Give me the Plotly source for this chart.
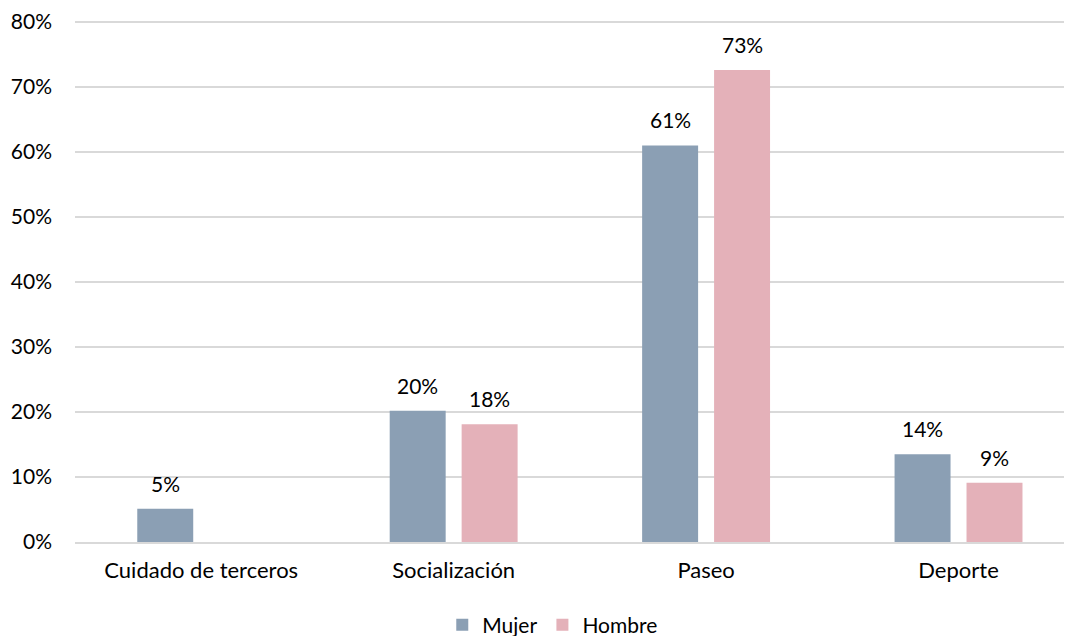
import plotly.graph_objects as go

categories = ["Cuidado de terceros", "Socialización", "Paseo", "Deporte"]
mujer = [5.1, 20.2, 61.0, 13.5]
hombre = [None, 18.1, 72.6, 9.1]
mujer_labels = ["5%", "20%", "61%", "14%"]
hombre_labels = ["", "18%", "73%", "9%"]
y_ticks = [0, 10, 20, 30, 40, 50, 60, 70, 80]
y_tick_text = [f"{v}%" for v in y_ticks]

FONT = "Lato"
FS = 21
C_MUJER = "#8B9FB4"
C_HOMBRE = "#E4B1B9"

fig = go.Figure()
fig.add_trace(go.Bar(name="Mujer", x=categories, y=mujer, marker_color=C_MUJER,
                     marker_line_width=0))
fig.add_trace(go.Bar(name="Hombre", x=categories, y=hombre, marker_color=C_HOMBRE,
                     marker_line_width=0))

annotations = []
for series, labels, shift in ((mujer, mujer_labels, -36), (hombre, hombre_labels, 36)):
    for cat, val, lab in zip(categories, series, labels):
        if val is None or not lab:
            continue
        annotations.append(dict(x=cat, y=val, text=lab, xref="x", yref="y",
                                showarrow=False, xshift=shift, yshift=11,
                                yanchor="bottom",
                                font=dict(family=FONT, size=FS, color="#000000")))

fig.update_layout(
    width=1064, height=628,
    margin=dict(l=67, r=0, t=12, b=94, autoexpand=False),
    paper_bgcolor="white", plot_bgcolor="white",
    barmode="group", bargap=0.430, bargroupgap=0.222,
    font=dict(family=FONT, size=FS, color="#000000"),
    showlegend=True,
    legend=dict(orientation="h", xref="container", yref="container",
                x=0.512, y=0.0175, xanchor="center", yanchor="middle",
                font=dict(family=FONT, size=FS), itemwidth=30),
    annotations=annotations,
)
fig.update_yaxes(range=[0, 80.3], tickvals=y_ticks, ticktext=y_tick_text,
                 showgrid=True, gridcolor="#D9D9D9", gridwidth=1.5,
                 zeroline=False, showline=False, ticks="", automargin=False,
                 ticklabeloverflow="allow",
                 ticklabelstandoff=22, fixedrange=True)
fig.update_xaxes(range=[-0.5, 3.4495], showgrid=False, showline=True,
                 linecolor="#D9D9D9", linewidth=1.5, automargin=False,
                 ticks="", ticklabelstandoff=8,
                 tickfont=dict(family=FONT, size=22))

fig.write_html("out.html")
